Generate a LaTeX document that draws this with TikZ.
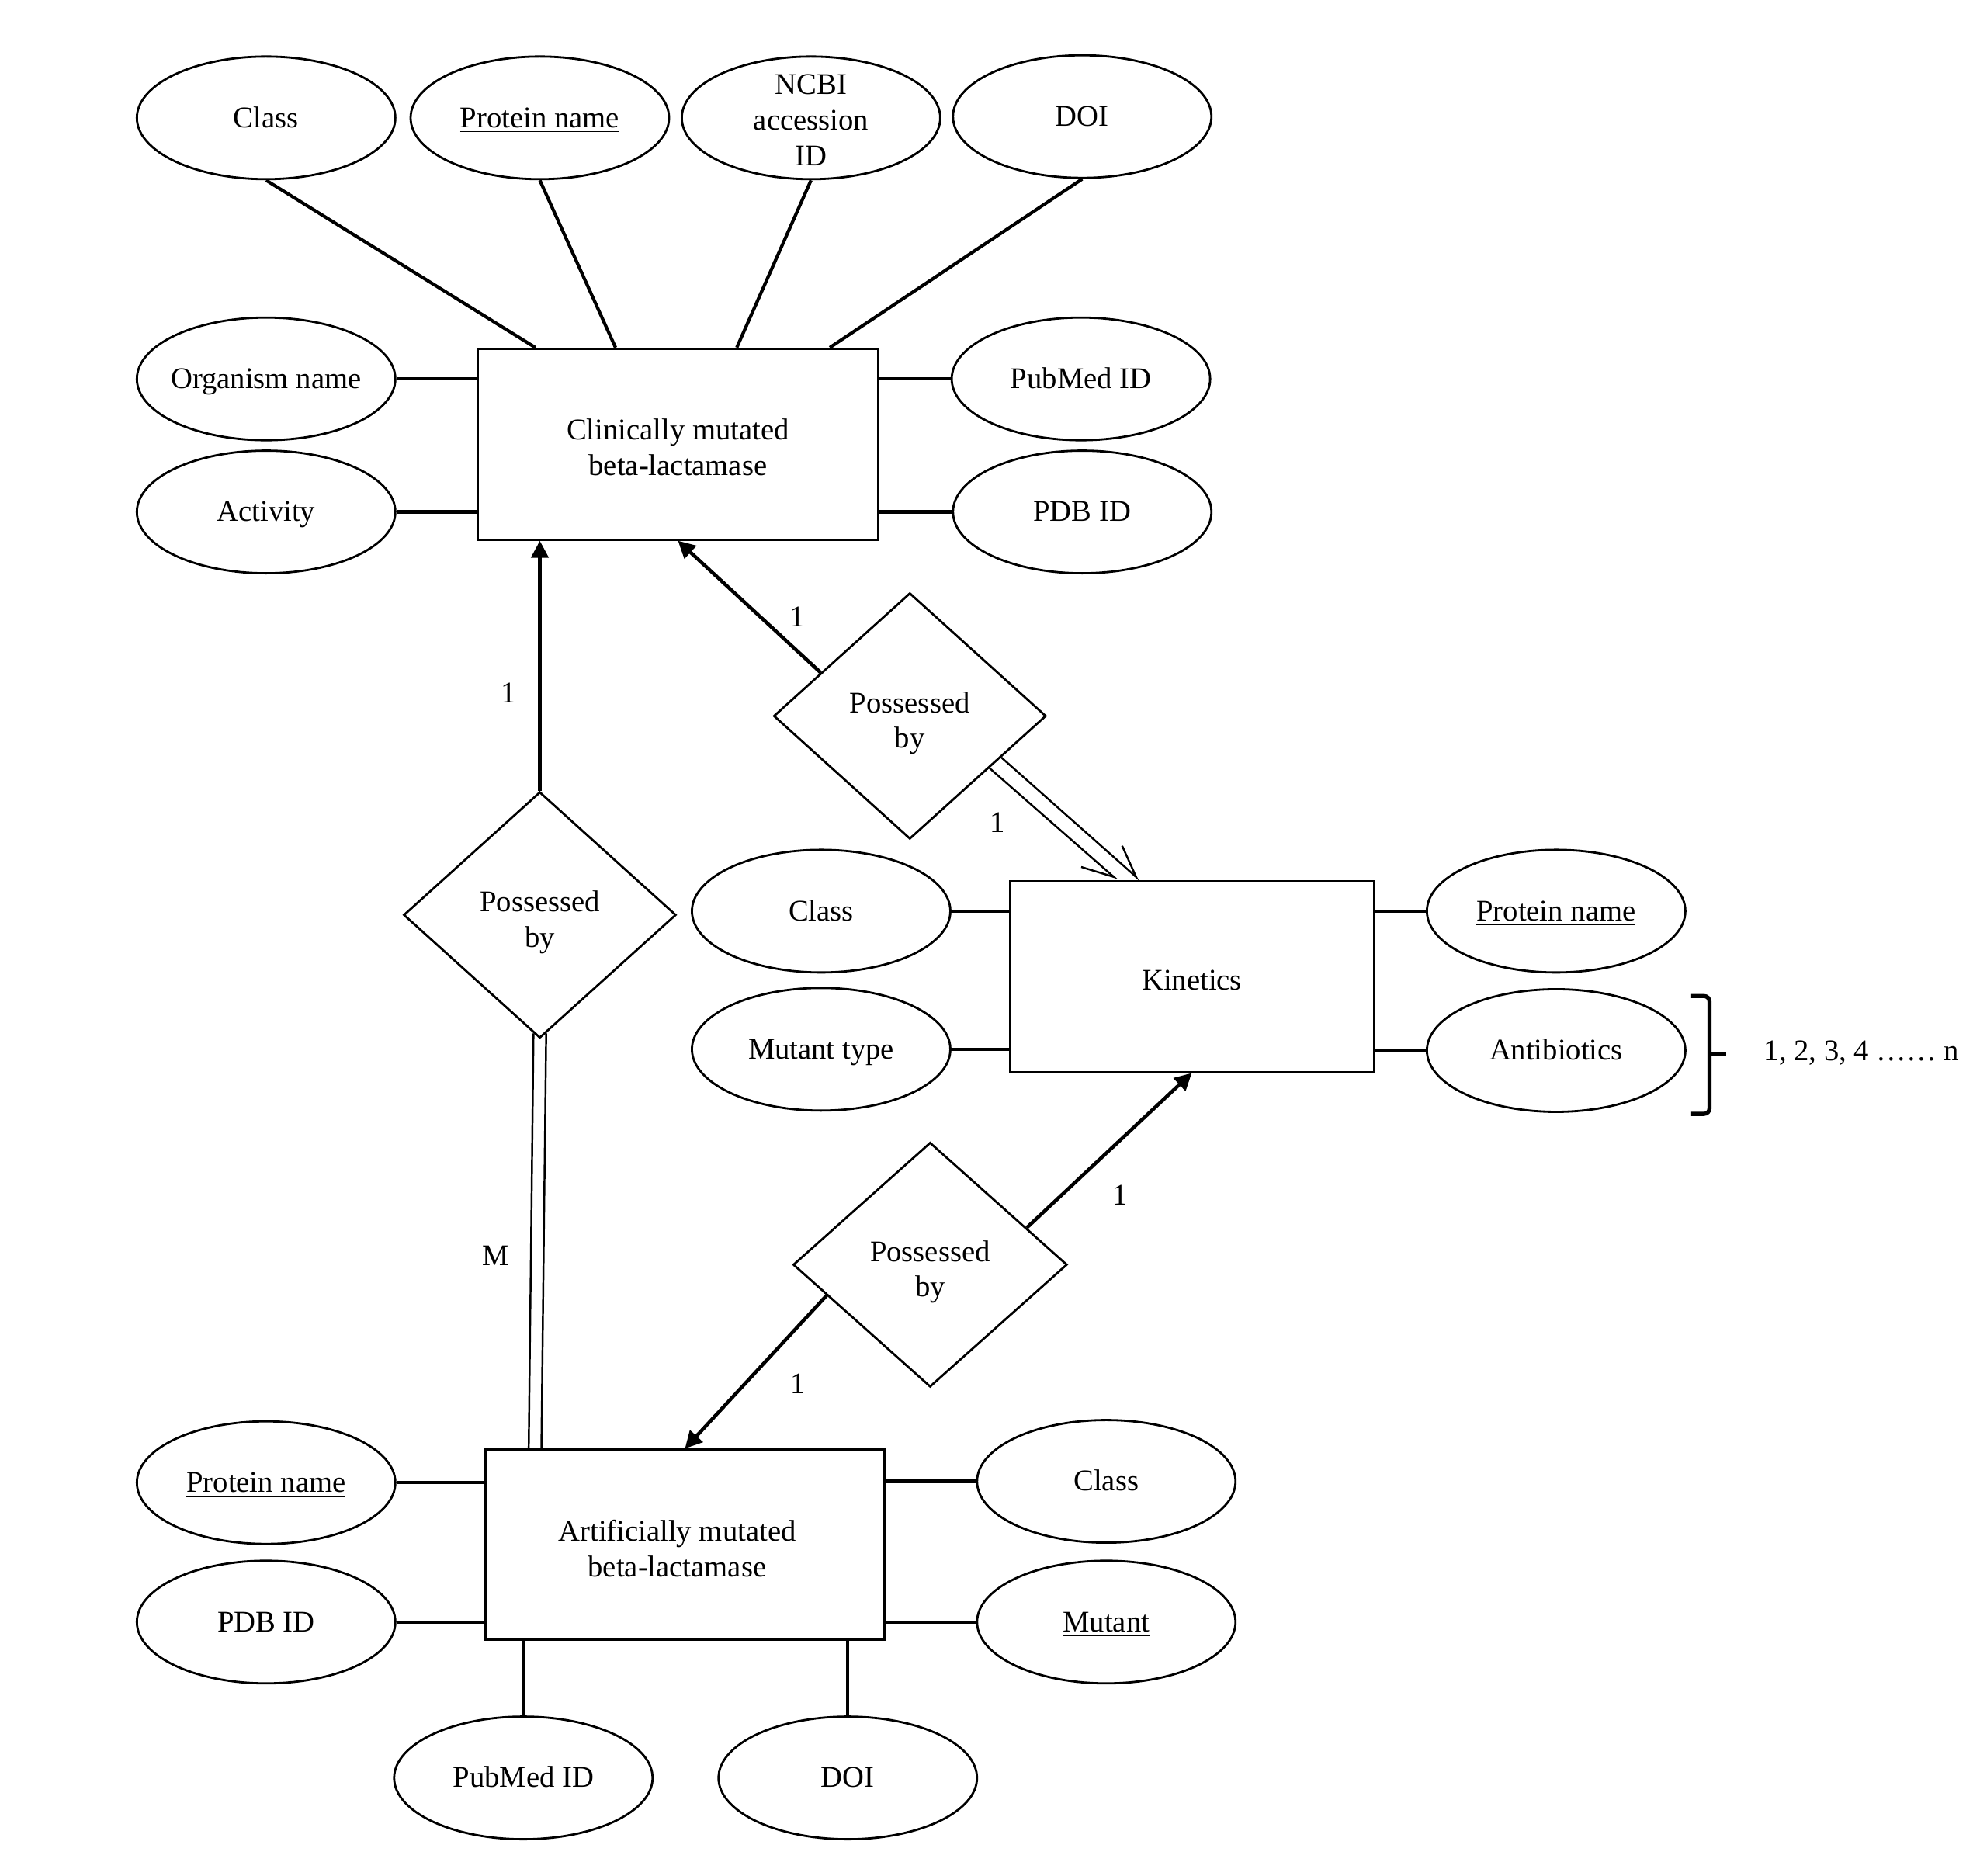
\documentclass[tikz,border=0pt]{standalone}
\usepackage{fontspec}
\setmainfont{Liberation Serif}
\usetikzlibrary{arrows.meta,shapes.geometric,calc}

\begin{document}
\begin{tikzpicture}[
  x={(0.0163265cm,0cm)}, y={(0cm,-0.0163265cm)},
  font=\fontsize{11}{13}\selectfont,
  ent/.style={draw, line width=0.8pt, minimum width=5.16cm, minimum height=2.46cm, align=center},
  attr/.style={draw, ellipse, line width=0.8pt, minimum width=3.33cm, minimum height=1.58cm, inner xsep=-2pt, inner ysep=0pt, align=center, text height=8.5pt, text depth=1.5pt},
  rel/.style={draw, diamond, line width=0.8pt, minimum width=3.51cm, minimum height=3.17cm, inner sep=0pt, align=center},
  link/.style={line width=1.2pt},
  arr/.style={-{Triangle[length=2.2mm, width=2.2mm]}, line width=1.3pt},
  dbl/.style={line width=0.7pt},
  card/.style={inner sep=1pt}
]
  \useasboundingbox (0,0) rectangle (1568,1480);

  \node[ent] (clin) at (535,350.5) {\rule{0pt}{10pt}Clinically mutated\\beta-lactamase};
  \node[ent, minimum width=4.69cm] (kin) at (940.5,770.5) {\rule{0pt}{10pt}Kinetics};
  \node[ent, minimum width=5.14cm, minimum height=2.45cm] (art) at (540.5,1219) {\rule{0pt}{10.5pt}Artificially mutated\hspace*{0.2cm}\\beta-lactamase\hspace*{0.2cm}};

  \node[rel] (pos1) at (426,722) {\rule{0pt}{13pt}Possessed\\by};
  \node[rel] (pos2) at (718,565) {\rule{0pt}{13pt}Possessed\\by};
  \node[rel, minimum width=3.53cm, minimum height=3.15cm] (pos3) at (734,998) {\rule{0pt}{13pt}Possessed\\by};

  \node[attr] (cls1) at (210,93) {Class};
  \node[attr] (pname1) at (426,93) {\underline{Protein name}};
  \node[attr, text height=, text depth=, inner ysep=-3.5pt] (ncbi) at (640,93) {\rule{0pt}{9pt}NCBI\\accession\\ID};
  \node[attr] (doi1) at (854,92) {DOI};
  \node[attr] (org) at (210,299) {Organism name};
  \node[attr] (act) at (210,404) {Activity};
  \node[attr] (pub1) at (853,299) {PubMed ID};
  \node[attr] (pdb1) at (854,404) {PDB ID};

  \node[attr] (cls2) at (648,719) {Class};
  \node[attr] (mtype) at (648,828) {Mutant type};
  \node[attr] (pname2) at (1228,719) {\underline{Protein name}};
  \node[attr] (anti) at (1228,829) {Antibiotics};
  \node (range) at (1469,831) {1, 2, 3, 4 …… n};

  \node[attr] (pname3) at (210,1170) {\underline{Protein name}};
  \node[attr] (pdb3) at (210,1280) {PDB ID};
  \node[attr] (cls3) at (873,1169) {Class};
  \node[attr] (mutant) at (873,1280) {\underline{Mutant}};
  \node[attr] (pub3) at (413,1403) {PubMed ID};
  \node[attr] (doi3) at (669,1403) {DOI};

  \node[card] (c1) at (401,547) {1};
  \node[card] (c2) at (629,487) {1};
  \node[card] (c3) at (787,649) {1};
  \node[card] (c4) at (884,943) {1};
  \node[card] (c5) at (630,1092) {1};
  \node[card] (cm) at (391,991) {M};

  \draw[link] (cls1.south) -- ($(clin.north west)!0.146!(clin.north east)$);
  \draw[link] (pname1.south) -- ($(clin.north west)!0.345!(clin.north east)$);
  \draw[link] (ncbi.south) -- ($(clin.north west)!0.646!(clin.north east)$);
  \draw[link] (doi1.south) -- ($(clin.north west)!0.877!(clin.north east)$);
  \draw[link] (org) -- (org -| clin.west);
  \draw[link] (act) -- (act -| clin.west);
  \draw[link] (pub1) -- (pub1 -| clin.east);
  \draw[link] (pdb1) -- (pdb1 -| clin.east);

  \draw[link] (cls2) -- (cls2 -| kin.west);
  \draw[link] (mtype) -- (mtype -| kin.west);
  \draw[link] (pname2) -- (pname2 -| kin.east);
  \draw[link] (anti) -- (anti -| kin.east);

  \draw[link] (pname3) -- (pname3 -| art.west);
  \draw[link] (pdb3) -- (pdb3 -| art.west);
  \draw[link] (cls3) -- (cls3 -| art.east);
  \draw[link] (mutant) -- (mutant -| art.east);
  \draw[link] (pub3) -- (pub3 |- art.south);
  \draw[link] (doi3) -- (doi3 |- art.south);

  \draw[arr] (pos1.north) -- (pos1.north |- clin.south);
  \draw[arr] ($(pos2.west)!0.35!(pos2.north)$) -- (clin.south);
  \draw[arr] ($(pos3.east)!0.3!(pos3.north)$) -- (kin.south);
  \draw[arr] ($(pos3.west)!0.25!(pos3.south)$) -- (art.north);

  \draw[dbl, -{Straight Barb[right, length=4mm, width=3.6mm]}] ($(pos2.east)!0.42!(pos2.south)$) -- ($(kin.north west)!0.296!(kin.north east)$);
  \draw[dbl, -{Straight Barb[left, length=4mm, width=3.6mm]}] ($(pos2.east)!0.334!(pos2.south)$) -- ($(kin.north west)!0.357!(kin.north east)$);
  \draw[dbl] ($(pos1.south)+(-5,-4.5)$) -- ($(art.north west)+(35,0)$);
  \draw[dbl] ($(pos1.south)+(5,-4.5)$) -- ($(art.north west)+(45,0)$);

  \draw[line width=1.5pt, rounded corners=2pt] (1334,786) -- (1349,786) -- (1349,879) -- (1334,879);
  \draw[line width=1.5pt] (1349,832) -- (1362,832);
\end{tikzpicture}
\end{document}
